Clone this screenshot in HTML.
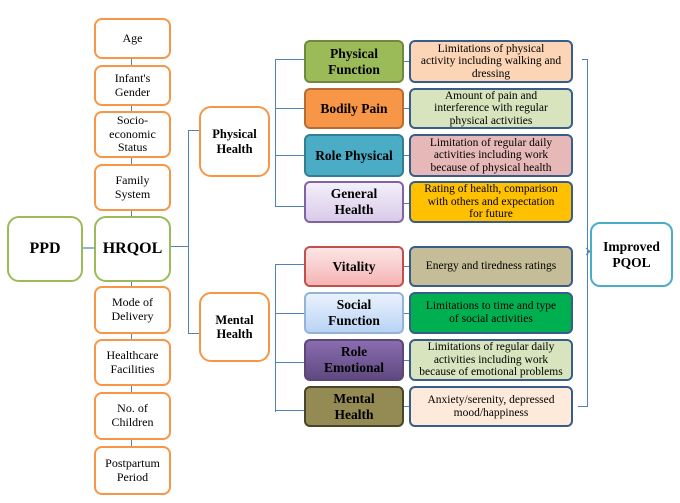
<!DOCTYPE html>
<html><head><meta charset="utf-8"><style>
body{margin:0;width:680px;height:503px;background:#fff;position:relative;font-family:"Liberation Serif",serif;overflow:hidden}
.b{position:absolute;box-sizing:border-box;display:flex;align-items:center;justify-content:center;text-align:center;color:#000;line-height:1.15}
.o{border:2px solid #f79646;border-radius:8px;font-size:12px;left:94px;width:77px;background:#fff}
.g{border:2px solid #9bbb59;border-radius:12px;font-size:16px;font-weight:bold;background:#fff}
.h{border:2px solid #f79646;border-radius:12px;font-size:12.5px;font-weight:bold;left:199px;width:71px;background:#fff}
.c{left:304px;width:100px;border-radius:6px;border:2px solid;font-size:13.5px;font-weight:bold}
.d{left:409px;width:164px;border-radius:6px;border:2px solid #385d8a;font-size:11.5px;line-height:1.1}
.l{position:absolute;background:#4f81bd}
</style></head><body>
<div class="l" style="left:131px;top:40px;width:1px;height:440px"></div>
<div class="l" style="left:82px;top:247px;width:12px;height:2px;background:#95b3d7"></div>
<div class="l" style="left:170px;top:246px;width:18px;height:1px"></div>
<div class="l" style="left:188px;top:130px;width:1px;height:204px"></div>
<div class="l" style="left:188px;top:130px;width:11px;height:1px"></div>
<div class="l" style="left:188px;top:333px;width:11px;height:1px"></div>
<div class="l" style="left:275px;top:59px;width:1px;height:148px"></div>
<div class="l" style="left:275px;top:264px;width:1px;height:148px"></div>
<div class="l" style="left:275px;top:59px;width:29px;height:1px"></div>
<div class="l" style="left:275px;top:108px;width:29px;height:1px"></div>
<div class="l" style="left:275px;top:155px;width:29px;height:1px"></div>
<div class="l" style="left:275px;top:206px;width:29px;height:1px"></div>
<div class="l" style="left:275px;top:264px;width:29px;height:1px"></div>
<div class="l" style="left:275px;top:313px;width:29px;height:1px"></div>
<div class="l" style="left:275px;top:362px;width:29px;height:1px"></div>
<div class="l" style="left:275px;top:410px;width:29px;height:1px"></div>
<div class="l" style="left:403px;top:61px;width:6px;height:1px"></div>
<div class="l" style="left:403px;top:108px;width:6px;height:1px"></div>
<div class="l" style="left:403px;top:155px;width:6px;height:1px"></div>
<div class="l" style="left:403px;top:203px;width:6px;height:1px"></div>
<div class="l" style="left:403px;top:266px;width:6px;height:1px"></div>
<div class="l" style="left:403px;top:313px;width:6px;height:1px"></div>
<div class="l" style="left:403px;top:360px;width:6px;height:1px"></div>
<div class="l" style="left:403px;top:406px;width:6px;height:1px"></div>
<div class="l" style="left:587px;top:59px;width:1px;height:347px"></div>
<div class="l" style="left:582px;top:59px;width:6px;height:1px"></div>
<div class="l" style="left:578px;top:406px;width:10px;height:1px"></div>
<div class="l" style="left:587px;top:251px;width:3px;height:1px"></div>
<svg style="position:absolute;left:583px;top:247px" width="8" height="9"><path d="M3 1 L7 4.5 L3 8" fill="none" stroke="#4f81bd" stroke-width="1"/></svg>

<div class="b o" style="top:18px;height:41px">Age</div>
<div class="b o" style="top:65px;height:41px">Infant's<br>Gender</div>
<div class="b o" style="top:111px;height:47px">Socio-<br>economic<br>Status</div>
<div class="b o" style="top:164px;height:47px">Family<br>System</div>
<div class="b g" style="left:94px;width:77px;top:216px;height:66px">HRQOL</div>
<div class="b g" style="left:7px;width:76px;top:216px;height:66px">PPD</div>
<div class="b o" style="top:286px;height:48px">Mode of<br>Delivery</div>
<div class="b o" style="top:339px;height:47px">Healthcare<br>Facilities</div>
<div class="b o" style="top:392px;height:48px">No. of<br>Children</div>
<div class="b o" style="top:446px;height:49px">Postpartum<br>Period</div>
<div class="b h" style="top:106px;height:71px">Physical<br>Health</div>
<div class="b h" style="top:292px;height:70px">Mental<br>Health</div>

<div class="b c" style="top:40px;height:43px;background:#9bbb59;border-color:#71893f">Physical<br>Function</div>
<div class="b c" style="top:88px;height:41px;background:#f79646;border-color:#b66d31">Bodily Pain</div>
<div class="b c" style="top:134px;height:43px;background:#4bacc6;border-color:#357d91">Role Physical</div>
<div class="b c" style="top:181px;height:42px;background:linear-gradient(#f3effa,#d9cbe8);border-color:#8064a2">General<br>Health</div>
<div class="b c" style="top:246px;height:41px;background:linear-gradient(#fde6e6,#f5b4b4);border-color:#c0504d">Vitality</div>
<div class="b c" style="top:292px;height:42px;background:linear-gradient(#eaf2fd,#b9d3f5);border-color:#95b3d7">Social<br>Function</div>
<div class="b c" style="top:339px;height:42px;background:linear-gradient(#8a6cb0,#5f4a80);border-color:#5c4776">Role<br>Emotional</div>
<div class="b c" style="top:386px;height:41px;background:#948a54;border-color:#4a4526">Mental<br>Health</div>

<div class="b d" style="top:40px;height:43px;background:#fbd5b5">Limitations of physical<br>activity including walking and<br>dressing</div>
<div class="b d" style="top:88px;height:41px;background:#d7e4bd">Amount of pain and<br>interference with regular<br>physical activities</div>
<div class="b d" style="top:134px;height:43px;background:#e6b9b8">Limitation of regular daily<br>activities including work<br>because of physical health</div>
<div class="b d" style="top:181px;height:42px;background:#ffc000">Rating of health, comparison<br>with others and expectation<br>for future</div>
<div class="b d" style="top:246px;height:41px;background:#c4bd97">Energy and tiredness ratings</div>
<div class="b d" style="top:292px;height:42px;background:#00b050">Limitations to time and type<br>of social activities</div>
<div class="b d" style="top:339px;height:42px;background:#d7e4bd">Limitations of regular daily<br>activities including work<br>because of emotional problems</div>
<div class="b d" style="top:386px;height:41px;background:#fdeada">Anxiety/serenity, depressed<br>mood/happiness</div>

<div class="b" style="left:590px;top:222px;width:83px;height:65px;border:2px solid #4bacc6;border-radius:10px;font-size:13.5px;font-weight:bold;background:#fff">Improved<br>PQOL</div>
</body></html>
